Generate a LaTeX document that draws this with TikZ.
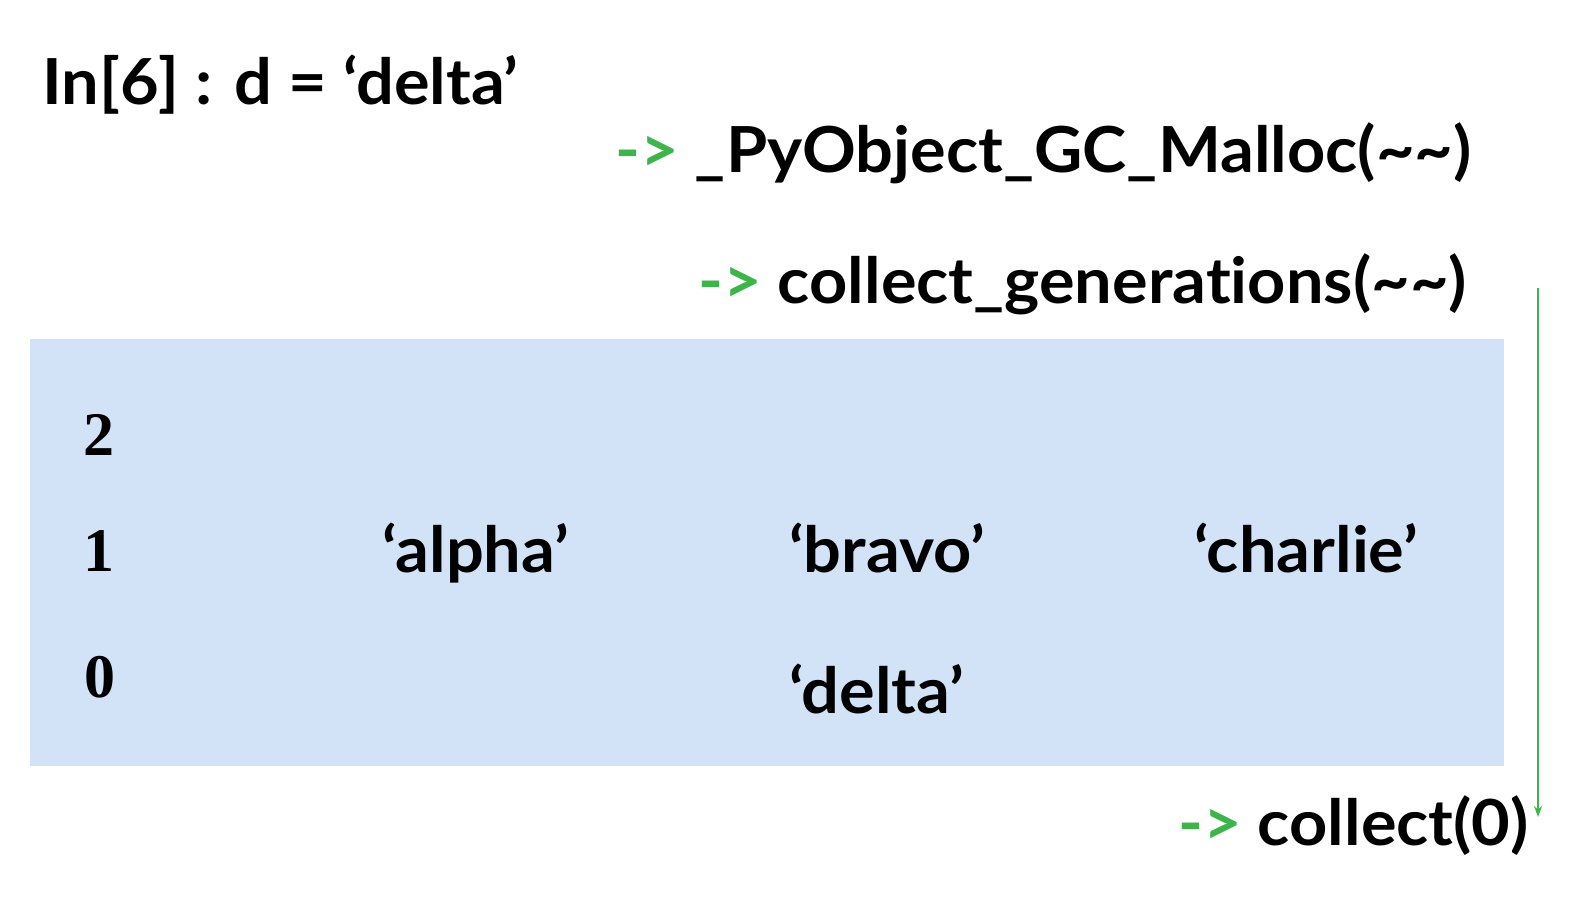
\documentclass[tikz,border=0pt]{standalone}
\usepackage{fontspec}
\setmainfont{Lato}[FakeStretch=1.05, Ligatures={TeX,NoCommon}]
\newfontfamily\numfont{Liberation Serif}
\usetikzlibrary{arrows.meta}
\definecolor{arrgreen}{HTML}{3DB54A}
\definecolor{boxblue}{HTML}{D3E3F7}
\tikzset{
  txt/.style={inner sep=0pt, anchor=base west, font=\fontsize{63.5}{70}\selectfont\bfseries},
  num/.style={inner sep=0pt, anchor=center, font=\fontsize{62}{70}\selectfont\numfont\bfseries},
  genbox/.style={fill=boxblue, draw=none, inner sep=0pt, anchor=north west},
  flow/.style={draw=arrgreen, line width=1.6pt, -{Stealth[length=11pt,width=8pt]}}
}
\newcommand{\garr}{\textcolor{arrgreen}{->}}
\begin{document}
\begin{tikzpicture}[x=1pt,y=-1pt]
\useasboundingbox (0,0) rectangle (1586,908);
\node[genbox, minimum width=1474pt, minimum height=427pt] (box) at (30,339) {};
\node[txt] (cmd) at (42,104) {In[6] : d = ‘delta’};
\node[txt] (malloc) at (615,172) {\garr{} \_PyObject\_GC\_Malloc(\char`\~\char`\~)};
\node[txt] (gens) at (698,303) {\garr{} collect\_generations(\char`\~\char`\~)};
\node[num] (g2) at (99,435) {2};
\node[num] (g1) at (99,551) {1};
\node[num] (g0) at (100,677) {0};
\node[txt] (alpha) at (382,572) {‘alpha’};
\node[txt] (bravo) at (789,572) {‘bravo’};
\node[txt] (charlie) at (1194,572) {‘charlie’};
\node[txt] (delta) at (789,713) {‘delta’};
\node[txt] (collect) at (1178,845) {\garr{} collect(0)};
\coordinate (astart) at (1538,288);
\coordinate (aend) at (1538,817);
\draw[flow] (astart) -- (aend);
\end{tikzpicture}
\end{document}
